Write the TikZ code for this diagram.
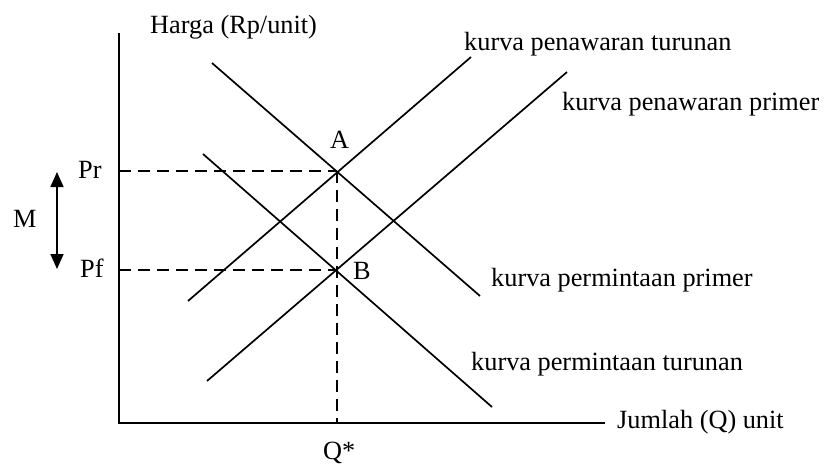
\documentclass[tikz,border=0pt]{standalone}
\usepackage{fontspec}
\setmainfont{Liberation Serif}
\usetikzlibrary{arrows.meta}
\begin{document}
\begin{tikzpicture}[x=1pt,y=-1pt,
  curve/.style={line width=1.7pt},
  guide/.style={line width=1.7pt, dash pattern=on 12pt off 7pt},
  lbl/.style={font=\fontsize{26.3}{30}\selectfont, inner sep=0pt, anchor=base west}]
\fill[white] (0,0) rectangle (826,464);
\useasboundingbox (0,0) rectangle (826,464);
% axes
\coordinate (O) at (119,423);
\coordinate (Ytop) at (119,33);
\coordinate (Xend) at (605,423);
\draw[curve] (Ytop) -- (O) -- (Xend);
% key points
\coordinate (A) at (337,171);
\coordinate (B) at (337,270);
\coordinate (Pry) at (119,171);
\coordinate (Pfy) at (119,270);
\coordinate (Qx) at (337,423);
\draw[guide] (Pry) -- (A);
\draw[guide] (Pfy) -- (B);
\draw[guide] (A) -- (Qx);
% curves
\coordinate (dp1) at (212,63);  \coordinate (dp2) at (480,296);
\coordinate (dt1) at (203,154); \coordinate (dt2) at (492,407);
\coordinate (st1) at (188,301); \coordinate (st2) at (471,57);
\coordinate (sp1) at (207,381); \coordinate (sp2) at (567,72);
\draw[curve] (dp1) -- (dp2);
\draw[curve] (dt1) -- (dt2);
\draw[curve] (st1) -- (st2);
\draw[curve] (sp1) -- (sp2);
% margin arrow
\coordinate (Mtop) at (57,172);
\coordinate (Mbot) at (57,269);
\draw[line width=1.7pt, {Triangle[length=15pt,width=13pt]}-{Triangle[length=15pt,width=13pt]}] (Mtop) -- (Mbot);
% labels
\node[lbl] (harga) at (150,33) {Harga (Rp/unit)};
\node[lbl] (jumlah) at (617,428) {Jumlah (Q) unit};
\node[lbl] (spt) at (464,50) {kurva penawaran turunan};
\node[lbl] (spp) at (562,110) {kurva penawaran primer};
\node[lbl] (dpp) at (491,286) {kurva permintaan primer};
\node[lbl] (dpt) at (471,370) {kurva permintaan turunan};
\node[lbl] (Pr) at (78,178) {Pr};
\node[lbl] (Pf) at (80,277) {Pf};
\node[lbl] (M) at (13,227) {M};
\node[lbl] (Alab) at (330,148) {A};
\node[lbl] (Blab) at (353,279) {B};
\node[lbl] (Q) at (323,459) {Q*};
\end{tikzpicture}
\end{document}
